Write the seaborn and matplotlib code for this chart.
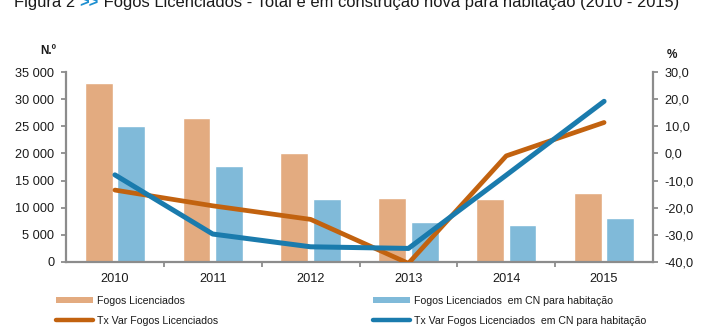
import numpy as np
import pandas as pd
import matplotlib
matplotlib.use("Agg")
import matplotlib.pyplot as plt
import seaborn as sns
from matplotlib.patches import Patch
from matplotlib.lines import Line2D
from matplotlib.ticker import FuncFormatter, FixedLocator

# ---- data ----
anos = ["2010", "2011", "2012", "2013", "2014", "2015"]
fogos = [33000, 26500, 20000, 11800, 11600, 12800]
fogos_cn = [25000, 17600, 11600, 7300, 6900, 8100]
tx_fogos = [-13.5, -19.3, -24.3, -40.5, -0.9, 11.4]
tx_cn = [-7.9, -29.7, -34.4, -35.0, -8.0, 19.2]

lab_fogos = "Fogos Licenciados"
lab_cn = "Fogos Licenciados  em CN para habitação"
lab_tx = "Tx Var Fogos Licenciados"
lab_txcn = "Tx Var Fogos Licenciados  em CN para habitação"

c_bar1 = "#E3AB80"
c_bar2 = "#80BAD9"
c_line1 = "#C2620F"
c_line2 = "#1A7BAD"
c_axis = "#8C8C8C"
c_text = "#1A1A1A"

sns.set_style("white")
plt.rcParams["font.family"] = ["Liberation Sans", "DejaVu Sans"]

df = pd.DataFrame({
    "Ano": anos * 2,
    "valor": fogos + fogos_cn,
    "serie": [lab_fogos] * 6 + [lab_cn] * 6,
})

fig = plt.figure(figsize=(7.12, 3.26), dpi=100)
ax = fig.add_axes([66 / 712, 64 / 326, 587 / 712, 190 / 326])

sns.barplot(data=df, x="Ano", y="valor", hue="serie",
            palette=[c_bar1, c_bar2], width=0.664, gap=0.14,
            saturation=1, ax=ax, legend=False, errorbar=None)

ax.set_xlim(-0.5, 5.5)
ax.set_ylim(0, 35000)
ax.set_xlabel("")
ax.set_ylabel("")
ax.yaxis.set_major_locator(FixedLocator(np.arange(0, 35001, 5000)))
ax.yaxis.set_major_formatter(FuncFormatter(lambda v, p: f"{int(v):,}".replace(",", " ")))

ax2 = ax.twinx()
xpos = np.arange(len(anos))
sns.lineplot(x=xpos, y=tx_fogos, color=c_line1, lw=3.4, ax=ax2,
             solid_capstyle="round", solid_joinstyle="round")
sns.lineplot(x=xpos, y=tx_cn, color=c_line2, lw=3.6, ax=ax2,
             solid_capstyle="round", solid_joinstyle="round")
ax2.set_ylim(-40, 30)
ax2.set_xlim(-0.5, 5.5)
ax2.yaxis.set_major_locator(FixedLocator(np.arange(-40, 31, 10)))
ax2.yaxis.set_major_formatter(FuncFormatter(lambda v, p: f"{v:.1f}".replace(".", ",")))

for a in (ax, ax2):
    for s in a.spines.values():
        s.set_color(c_axis)
        s.set_linewidth(1.6)
    a.spines["top"].set_visible(False)

ax.spines["right"].set_visible(False)
ax2.spines["left"].set_visible(False)
ax2.spines["bottom"].set_visible(False)

ax.tick_params(axis="y", direction="out", length=3.5, width=1.3, color=c_axis,
               labelsize=9.2, labelcolor=c_text, pad=5, left=True)
ax2.tick_params(axis="y", direction="out", length=3.5, width=1.3, color=c_axis,
                labelsize=9.2, labelcolor=c_text, pad=5, right=True)
# x ticks at category boundaries, labels at centres
ax.set_xticks(np.arange(6))
ax.set_xticklabels(anos)
ax.tick_params(axis="x", which="major", length=0, labelsize=9.2, labelcolor=c_text, pad=8)
ax.set_xticks(np.arange(0.5, 5.5, 1), minor=True)
ax.tick_params(axis="x", which="minor", direction="out", length=3.5, width=1.3,
               color=c_axis, bottom=True)

# axis unit labels
fig.text(40 / 712, 1 - 51.5 / 326, "N.º", fontsize=8.5, fontweight="bold",
         color=c_text, va="center", ha="left")
fig.text(667 / 712, 1 - 55 / 326, "%", fontsize=8.5, fontweight="bold",
         color=c_text, va="center", ha="left")

# title (cut at top edge, as in the reference)
parts = [("Figura 2 ", c_text), (">>", "#1E8FD0"),
         (" Fogos Licenciados - Total e em construção nova para habitação (2010 - 2015)", c_text)]
fig.canvas.draw()
renderer = fig.canvas.get_renderer()
x_px = 14.0
for txt, col in parts:
    t = fig.text(x_px / 712, 1 - 7.5 / 326, txt, fontsize=11.9, color=col,
                 va="baseline", ha="left", fontweight="bold" if txt == ">>" else "normal")
    bb = t.get_window_extent(renderer=renderer)
    x_px = bb.x1

# legends
h1 = [Patch(facecolor=c_bar1, edgecolor="none", label=lab_fogos),
      Line2D([0], [0], color=c_line1, lw=3.2, solid_capstyle="round", label=lab_tx)]
h2 = [Patch(facecolor=c_bar2, edgecolor="none", label=lab_cn),
      Line2D([0], [0], color=c_line2, lw=3.2, solid_capstyle="round", label=lab_txcn)]
common = dict(loc="upper left", frameon=False, fontsize=7.6, handlelength=3.5,
              handleheight=0.5, handletextpad=0.35, labelspacing=0.9,
              borderpad=0, borderaxespad=0, labelcolor=c_text)
leg1 = fig.legend(handles=h1, bbox_to_anchor=(56 / 712, 1 - 296 / 326), **common)
leg2 = fig.legend(handles=h2, bbox_to_anchor=(373 / 712, 1 - 296 / 326), **common)

fig.savefig("out.png", dpi=100)
